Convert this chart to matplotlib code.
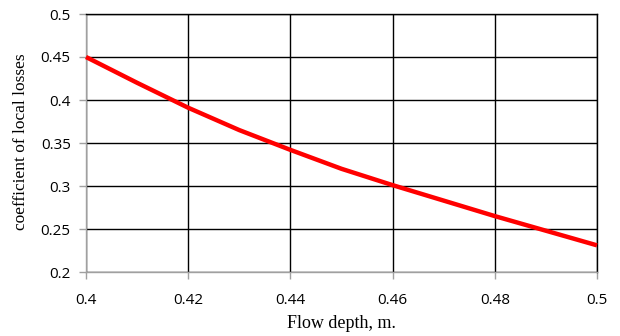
import matplotlib
matplotlib.use("Agg")
import matplotlib.pyplot as plt

flow_depth = [0.40, 0.41, 0.42, 0.43, 0.44, 0.45, 0.46, 0.47, 0.48, 0.49, 0.50]
loss_coef = [0.450, 0.420, 0.391, 0.365, 0.342, 0.320, 0.301, 0.283, 0.265, 0.248, 0.231]
x_ticks = [0.4, 0.42, 0.44, 0.46, 0.48, 0.5]
x_tick_labels = ["0.4", "0.42", "0.44", "0.46", "0.48", "0.5"]
y_ticks = [0.2, 0.25, 0.3, 0.35, 0.4, 0.45, 0.5]
y_tick_labels = ["0.2", "0.25", "0.3", "0.35", "0.4", "0.45", "0.5"]

W, H = 620, 336
fig = plt.figure(figsize=(6.2, 3.36), dpi=100)
ax = fig.add_axes([86/W, 64/H, 511/W, 258/H])
ax.plot(flow_depth, loss_coef, color="#ff0000", lw=3.2, solid_capstyle="butt", zorder=3, clip_on=False)
ax.set_xlim(0.4, 0.5)
ax.set_ylim(0.2, 0.5)
ax.set_xticks(x_ticks)
ax.set_xticklabels(x_tick_labels)
ax.set_yticks(y_ticks)
ax.set_yticklabels(y_tick_labels)
ax.grid(True, color="black", lw=1.0)
ax.set_axisbelow(True)
for s in ["left", "bottom"]:
    ax.spines[s].set_color("#a0a0a0")
    ax.spines[s].set_linewidth(1.0)
for s in ["top", "right"]:
    ax.spines[s].set_color("black")
    ax.spines[s].set_linewidth(1.0)
ax.tick_params(axis="both", direction="out", color="#a0a0a0", length=5, width=1,
               labelsize=11, pad=6)
for lab in ax.get_xticklabels() + ax.get_yticklabels():
    lab.set_family(["Open Sans", "DejaVu Sans"])
ax.tick_params(axis="x", pad=10)
fig.text(341/W, 1 - 323/H, "Flow depth, m.", family="Liberation Serif", fontsize=13,
         ha="center", va="center")
fig.text(21/W, 1 - 142/H, "coefficient of local losses", family="Liberation Serif",
         fontsize=12.5, rotation=90, ha="center", va="center")
fig.savefig("out.png", dpi=100)
